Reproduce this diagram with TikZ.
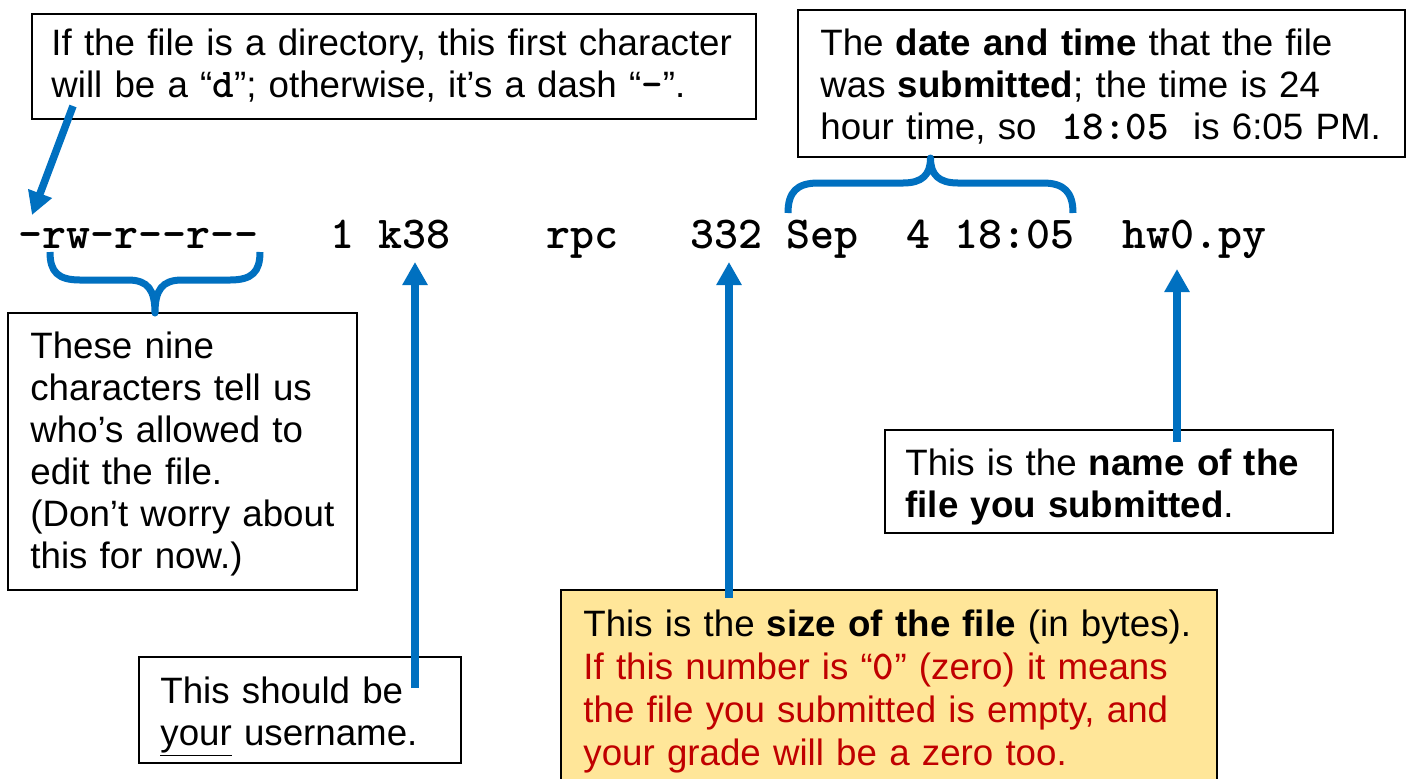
\documentclass[tikz,border=0pt]{standalone}
\usepackage{fontspec}
\setmainfont{Liberation Sans}
\setmonofont{lmmono10-regular.otf}[BoldFont=lmmonolt10-bold.otf]
\usetikzlibrary{arrows.meta,calc,fit}
\definecolor{callblue}{HTML}{0070C0}
\definecolor{noteyellow}{HTML}{FFE699}
\definecolor{warnred}{HTML}{C00000}
\newcommand{\cmono}[1]{{\fontsize{20.5}{21}\selectfont\ttfamily\bfseries #1}}
\tikzset{
  box/.style={draw=black, line width=1pt, fill=white, inner sep=0pt},
  txt/.style={inner sep=0pt, anchor=base west, align=left, font=\fontsize{18.35}{21}\selectfont},
  code/.style={inner sep=0pt, anchor=base west, font=\fontsize{22.86}{24}\selectfont\ttfamily\bfseries},
  pointer/.style={draw=callblue, line width=3.75pt, -{Triangle[width=12pt,length=11.5pt]}},
  brace/.style={draw=callblue, line width=3.5pt, line join=round},
}
\begin{document}
\begin{tikzpicture}[x=0.5pt,y=-0.5pt]
\clip (0,0) rectangle (1410,778);
\fill[white] (0,0) rectangle (1410,778);

% ls -l line
\node[code] (perm)  at (18,248)   {-rw-r--r--};
\node[code] (links) at (330,248)  {1};
\node[code] (user)  at (378,248)  {k38};
\node[code] (group) at (546,248)  {rpc};
\node[code] (size)  at (690,248)  {332};
\node[code] (month) at (786,248)  {Sep};
\node[code] (day)   at (906,248)  {4};
\node[code] (clock) at (954,248)  {18:05};
\node[code] (fname) at (1122,248) {hw0.py};

% top-left box
\node[box, fit={(32,14) (756,119)}] (dirbox) {};
\node[txt, text width=360pt] (dirtxt) at (51,55)
  {If the file is a directory, this first character\\
   will be a “\cmono{d}”; otherwise, it’s a dash “\cmono{-}”.};

% top-right box
\node[box, fit={(798,10) (1405,157)}] (datebox) {};
\node[txt, text width=300pt] (datetxt) at (820,55)
  {The \textbf{date and time} that the file\\
   was \textbf{submitted}; the time is 24\\
   hour time, so\ \ \cmono{18:05}\ \ is 6:05 PM.};

% permissions box
\node[box, fit={(8,313) (357,590)}] (permbox) {};
\node[txt, text width=170pt] (permtxt) at (30,358)
  {These nine\\
   characters tell us\\
   who’s allowed to\\
   edit the file.\\
   (Don’t worry about\\
   this for now.)};

% username box
\node[box, fit={(139,657) (461,763)}] (userbox) {};
\node[txt, text width=155pt] (usertxt) at (160,703)
  {This should be\\
   \underline{your} username.};

% size box
\node[box, fill=noteyellow, fit={(561,590) (1217,790)}] (sizebox) {};
\node[txt, text width=320pt, font=\fontsize{18.35}{21.5}\selectfont] (sizetxt) at (583,636)
  {This is the \textbf{size of the file} (in bytes).\\
   \color{warnred}If this number is “\cmono{0}” (zero) it means\\
   the file you submitted is empty, and\\
   your grade will be a zero too.};

% file name box
\node[box, fit={(885,430) (1333,533)}] (namebox) {};
\node[txt, text width=215pt] (nametxt) at (905,475)
  {This is the \textbf{name of the}\\
   \textbf{file you submitted}.};

% braces
\draw[brace] (50,252) .. controls (50,272) and (58,280) .. (80,280) -- (128,280)
  .. controls (148,280) and (155,290) .. (155,313)
  .. controls (155,290) and (162,280) .. (182,280) -- (230,280)
  .. controls (252,280) and (260,272) .. (260,252);
\draw[brace] (788,213) .. controls (788,192) and (797,183) .. (818,183) -- (903,183)
  .. controls (922,183) and (930.5,175) .. (930.5,158)
  .. controls (930.5,175) and (939,183) .. (958,183) -- (1043,183)
  .. controls (1064,183) and (1073,192) .. (1073,213);

% arrows
\coordinate (dStart) at (73,106);
\coordinate (dTip) at (32,215);
\draw[pointer] (dStart) -- (dTip);

\coordinate (uStart) at (415,688);
\coordinate (uTip) at (415,262);
\draw[pointer] (uStart) -- (uTip);

\coordinate (sStart) at (729,598);
\coordinate (sTip) at (729,262);
\draw[pointer] (sStart) -- (sTip);

\coordinate (nStart) at (1177,442);
\coordinate (nTip) at (1177,269);
\draw[pointer] (nStart) -- (nTip);
\end{tikzpicture}
\end{document}
